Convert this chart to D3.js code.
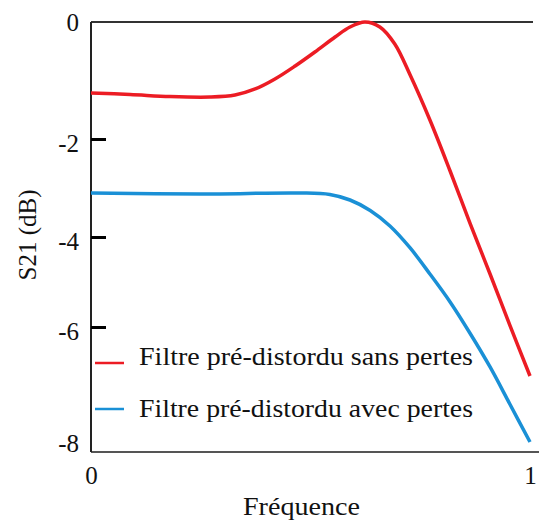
<!DOCTYPE html>
<html><head><meta charset="utf-8">
<script src="https://cdn.jsdelivr.net/npm/d3@7"></script>
<style>
html,body{margin:0;padding:0;background:#fff;}
svg text{fill:#111;}
</style></head>
<body>
<svg id="chart" width="539" height="522"></svg>
<script>
// ---- data ----
const freq = [0, 0.089, 0.18, 0.271, 0.328, 0.374, 0.419, 0.465, 0.51, 0.556, 0.59, 0.624, 0.658, 0.692, 0.727, 0.772, 0.818, 0.863, 0.909, 0.954, 1.0];
const sansPertes = [-1.214, -1.239, -1.274, -1.282, -1.248, -1.145, -0.974, -0.752, -0.513, -0.256, -0.085, 0, -0.085, -0.376, -0.906, -1.675, -2.653, -3.714, -4.822, -5.956, -6.875];
const freqB = [0, 0.248, 0.476, 0.544, 0.59, 0.636, 0.681, 0.727, 0.772, 0.818, 0.863, 0.909, 0.954, 1.0];
const avecPertes = [-3.102, -3.122, -3.102, -3.133, -3.245, -3.459, -3.776, -4.244, -4.822, -5.444, -6.107, -6.714, -7.375, -8.054];
const yTicks = [0, -2, -4, -6, -8];
const xTicks = [0, 1];
const seriesNames = ["Filtre pré-distordu sans pertes", "Filtre pré-distordu avec pertes"];
const colors = ["#ec1c24", "#1a90d6"];
const FONT = '"Liberation Serif","Times New Roman",Times,Tinos,"Nimbus Roman","Noto Serif","DejaVu Serif",FreeSerif,serif';

// ---- scales ----
const svg = d3.select("#chart");
const x = d3.scaleLinear().domain([0, 1]).range([91, 530]);
// the original figure's vertical axis is unevenly graduated
const y = d3.scaleLinear().domain([0, -2, -4, -6, -8, -8.232]).range([22, 139, 237, 327, 439, 452]);

// frame lines
svg.append("line").attr("x1", 91).attr("x2", 533).attr("y1", y(0)).attr("y2", y(0))
  .attr("stroke", "#333").attr("stroke-width", 2);
svg.append("line").attr("x1", 91).attr("x2", 539).attr("y1", 452).attr("y2", 452)
  .attr("stroke", "#555").attr("stroke-width", 2);

// y axis
const yAxis = d3.axisLeft(y).tickValues(yTicks).tickSize(-15).tickPadding(12).tickFormat(d3.format("d"));
const gy = svg.append("g").attr("transform", "translate(91,0)").call(yAxis).attr("font-family", FONT);
gy.select(".domain").attr("d", "M0,22V452").attr("stroke", "#222").attr("stroke-width", 2);
gy.selectAll(".tick line").attr("stroke", "#000").attr("stroke-width", 3)
  .attr("display", d => (d === 0 || d === -8) ? "none" : null);
gy.selectAll(".tick text").attr("font-size", 25).attr("fill", "#111")
  .attr("dy", d => d === 0 ? "0.35em" : "0.5em").text(d => d === 0 ? "0" : "-" + Math.abs(d));

// x axis labels
const xAxis = d3.axisBottom(x).tickValues(xTicks).tickSize(0).tickPadding(14).tickFormat(d3.format("d"));
const gx = svg.append("g").attr("transform", "translate(0,452)").call(xAxis).attr("font-family", FONT);
gx.select(".domain").remove();
gx.selectAll(".tick text").attr("font-size", 25).attr("fill", "#111");

// titles
svg.append("text").attr("transform", "translate(36,235) rotate(-90)").attr("text-anchor", "middle")
  .attr("font-family", FONT).attr("font-size", 25).text("S21 (dB)");
svg.append("text").attr("x", 243).attr("y", 515)
  .attr("font-family", FONT).attr("font-size", 25)
  .attr("textLength", 117).attr("lengthAdjust", "spacingAndGlyphs").text("Fréquence");

// curves
const line = d3.line().x(d => x(d[0])).y(d => y(d[1])).curve(d3.curveCatmullRom.alpha(0.5));
svg.append("path").datum(freqB.map((f, i) => [f, avecPertes[i]]))
  .attr("d", line).attr("fill", "none").attr("stroke", colors[1]).attr("stroke-width", 3.5);
svg.append("path").datum(freq.map((f, i) => [f, sansPertes[i]]))
  .attr("d", line).attr("fill", "none").attr("stroke", colors[0]).attr("stroke-width", 3.5);

// legend
const legY = [363, 409];
const legLen = [334, 334];
seriesNames.forEach((n, i) => {
  svg.append("line").attr("x1", 95).attr("x2", 124).attr("y1", legY[i]).attr("y2", legY[i])
    .attr("stroke", colors[i]).attr("stroke-width", 2.5);
  svg.append("text").attr("x", 139).attr("y", legY[i] - (i === 0 ? 7 : 1)).attr("dy", "0.35em")
    .attr("font-family", FONT).attr("font-size", 25)
    .attr("textLength", legLen[i]).attr("lengthAdjust", "spacingAndGlyphs").text(n);
});
</script>
</body></html>
